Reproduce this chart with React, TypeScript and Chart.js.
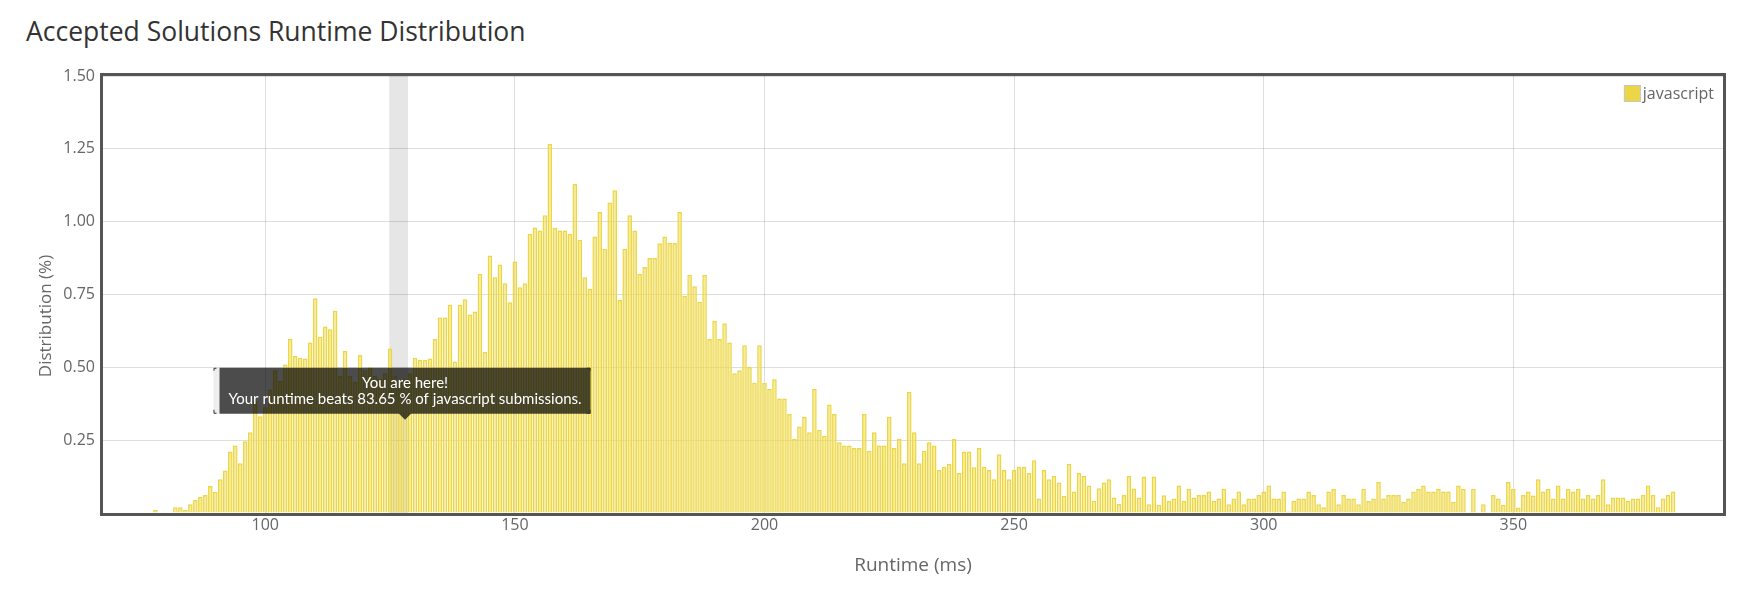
import React, { useEffect, useRef } from 'react';
import { Chart, registerables } from 'chart.js';

Chart.register(...registerables);

// Runtime buckets (ms)
const runtimeMs: number[] = [
  78, 79, 80, 81, 82, 83, 84, 85, 86, 87,
  88, 89, 90, 91, 92, 93, 94, 95, 96, 97,
  98, 99, 100, 101, 102, 103, 104, 105, 106, 107,
  108, 109, 110, 111, 112, 113, 114, 115, 116, 117,
  118, 119, 120, 121, 122, 123, 124, 125, 126, 127,
  128, 129, 130, 131, 132, 133, 134, 135, 136, 137,
  138, 139, 140, 141, 142, 143, 144, 145, 146, 147,
  148, 149, 150, 151, 152, 153, 154, 155, 156, 157,
  158, 159, 160, 161, 162, 163, 164, 165, 166, 167,
  168, 169, 170, 171, 172, 173, 174, 175, 176, 177,
  178, 179, 180, 181, 182, 183, 184, 185, 186, 187,
  188, 189, 190, 191, 192, 193, 194, 195, 196, 197,
  198, 199, 200, 201, 202, 203, 204, 205, 206, 207,
  208, 209, 210, 211, 212, 213, 214, 215, 216, 217,
  218, 219, 220, 221, 222, 223, 224, 225, 226, 227,
  228, 229, 230, 231, 232, 233, 234, 235, 236, 237,
  238, 239, 240, 241, 242, 243, 244, 245, 246, 247,
  248, 249, 250, 251, 252, 253, 254, 255, 256, 257,
  258, 259, 260, 261, 262, 263, 264, 265, 266, 267,
  268, 269, 270, 271, 272, 273, 274, 275, 276, 277,
  278, 279, 280, 281, 282, 283, 284, 285, 286, 287,
  288, 289, 290, 291, 292, 293, 294, 295, 296, 297,
  298, 299, 300, 301, 302, 303, 304, 305, 306, 307,
  308, 309, 310, 311, 312, 313, 314, 315, 316, 317,
  318, 319, 320, 321, 322, 323, 324, 325, 326, 327,
  328, 329, 330, 331, 332, 333, 334, 335, 336, 337,
  338, 339, 340, 341, 342, 343, 344, 345, 346, 347,
  348, 349, 350, 351, 352, 353, 354, 355, 356, 357,
  358, 359, 360, 361, 362, 363, 364, 365, 366, 367,
  368, 369, 370, 371, 372, 373, 374, 375, 376, 377,
  378, 379, 380, 381, 382,
];

// Distribution (%) per runtime bucket
const distribution: (number | null)[] = [
  0.01, null, null, null, 0.02, 0.02, 0.01, 0.03, 0.045, 0.055,
  0.062, 0.093, 0.073, 0.116, 0.146, 0.211, 0.232, 0.171, 0.246, 0.277,
  0.384, 0.332, 0.363, 0.424, 0.49, 0.453, 0.51, 0.597, 0.539, 0.533,
  0.53, 0.585, 0.737, 0.605, 0.64, 0.631, 0.694, 0.47, 0.556, 0.47,
  0.45, 0.542, 0.49, 0.5, 0.47, 0.46, 0.48, 0.565, 0.47, 0.45,
  0.46, 0.48, 0.533, 0.525, 0.525, 0.53, 0.597, 0.671, 0.671, 0.715,
  0.52, 0.715, 0.734, 0.681, 0.692, 0.821, 0.553, 0.884, 0.809, 0.853,
  0.789, 0.723, 0.863, 0.775, 0.789, 0.958, 0.98, 0.97, 1.022, 1.267,
  0.979, 0.97, 0.97, 0.958, 1.129, 0.938, 0.809, 0.769, 0.949, 1.033,
  0.907, 1.066, 1.108, 0.731, 0.907, 1.022, 0.97, 0.821, 0.844, 0.875,
  0.875, 0.926, 0.949, 0.927, 0.927, 1.033, 0.746, 0.818, 0.778, 0.725,
  0.818, 0.597, 0.659, 0.597, 0.651, 0.585, 0.48, 0.49, 0.576, 0.501,
  0.447, 0.576, 0.447, 0.426, 0.459, 0.393, 0.393, 0.34, 0.254, 0.297,
  0.33, 0.277, 0.426, 0.286, 0.265, 0.372, 0.34, 0.243, 0.232, 0.232,
  0.223, 0.223, 0.34, 0.214, 0.277, 0.232, 0.232, 0.33, 0.223, 0.255,
  0.171, 0.416, 0.277, 0.171, 0.214, 0.243, 0.232, 0.148, 0.159, 0.169,
  0.254, 0.137, 0.211, 0.211, 0.157, 0.223, 0.159, 0.148, 0.116, 0.202,
  0.148, 0.116, 0.148, 0.159, 0.159, 0.137, 0.181, 0.05, 0.148, 0.116,
  0.127, 0.105, 0.059, 0.169, 0.074, 0.137, 0.127, 0.094, 0.042, 0.085,
  0.105, 0.116, 0.053, 0.031, 0.062, 0.127, 0.084, 0.053, 0.125, 0.03,
  0.125, 0.028, 0.061, 0.041, 0.05, 0.094, 0.041, 0.083, 0.053, 0.062,
  0.062, 0.074, 0.041, 0.05, 0.083, 0.03, 0.05, 0.074, 0.03, 0.05,
  0.05, 0.062, 0.074, 0.094, 0.05, 0.05, 0.074, 0.005, 0.041, 0.05,
  0.05, 0.074, 0.062, 0.03, 0.02, 0.074, 0.083, 0.03, 0.062, 0.05,
  0.05, 0.03, 0.083, 0.041, 0.05, 0.106, 0.05, 0.062, 0.062, 0.062,
  0.039, 0.05, 0.074, 0.083, 0.094, 0.074, 0.074, 0.083, 0.074, 0.074,
  0.039, 0.094, 0.083, 0.003, 0.083, 0.003, 0.03, 0.003, 0.062, 0.05,
  0.028, 0.106, 0.083, 0.019, 0.062, 0.074, 0.06, 0.116, 0.074, 0.083,
  0.05, 0.094, 0.05, 0.083, 0.074, 0.083, 0.05, 0.062, 0.05, 0.062,
  0.116, 0.03, 0.053, 0.053, 0.053, 0.041, 0.05, 0.05, 0.062, 0.094,
  0.062, 0.02, 0.05, 0.062, 0.074,
];

const xTickValues = [100, 150, 200, 250, 300, 350];
const yTickValues = [0, 0.25, 0.5, 0.75, 1, 1.25, 1.5];
const seriesName = 'javascript';
const chartTitle = 'Accepted Solutions Runtime Distribution';
const xAxisTitle = 'Runtime (ms)';
const yAxisTitle = 'Distribution (%)';
const yourRuntime = 128;
const yourRuntimeBand = [124.85, 128.6];
const beatsPercent = '83.65';
const tooltipAnchorValue = 0.32;

const FONT = '"Open Sans"';
const TIP_FONT = 'Lato';
const BAR_FILL = 'rgba(240, 224, 96, 0.62)';
const BAR_BORDER = 'rgb(236, 214, 70)';

export default function App() {
  const canvasRef = useRef<HTMLCanvasElement>(null);

  useEffect(() => {
    const canvas = canvasRef.current;
    if (!canvas) return;
    const points = runtimeMs.map((x, i) => ({ x, y: distribution[i] }));

    const decor = {
      id: 'decor',
      beforeDraw(chart: any) {
        const { ctx, chartArea: a, scales } = chart;
        const x0 = scales.x.getPixelForValue(yourRuntimeBand[0]);
        const x1 = scales.x.getPixelForValue(yourRuntimeBand[1]);
        ctx.save();
        ctx.fillStyle = '#e6e6e6';
        ctx.fillRect(x0, a.top, x1 - x0, a.bottom - a.top);
        ctx.restore();
      },
      afterDraw(chart: any) {
        const { ctx, chartArea: a, scales } = chart;
        ctx.save();
        // plot frame
        ctx.strokeStyle = '#555555';
        ctx.lineWidth = 3;
        ctx.strokeRect(a.left - 1.5, a.top - 1.5, a.right - a.left + 3, a.bottom - a.top + 3);

        // y axis title
        ctx.save();
        ctx.translate(38.5, 308);
        ctx.rotate(-Math.PI / 2);
        ctx.font = `17px ${FONT}`;
        ctx.fillStyle = '#666666';
        ctx.textAlign = 'center';
        ctx.textBaseline = 'middle';
        ctx.fillText(yAxisTitle, 0, 0);
        ctx.restore();

        // legend (inside plot, top-right)
        ctx.font = `16px ${FONT}`;
        ctx.textBaseline = 'middle';
        ctx.textAlign = 'left';
        const lw = ctx.measureText(seriesName).width;
        const textRight = a.right - 9;
        const textLeft = textRight - lw;
        const boxSize = 17;
        const boxX = textLeft - 2 - boxSize;
        const boxY = a.top + 9;
        ctx.fillStyle = BAR_BORDER;
        ctx.fillRect(boxX + 0.5, boxY + 0.5, boxSize - 1, boxSize - 1);
        ctx.strokeStyle = '#c4c4c4';
        ctx.lineWidth = 1;
        ctx.strokeRect(boxX + 0.5, boxY + 0.5, boxSize - 1, boxSize - 1);
        ctx.fillStyle = '#666666';
        ctx.fillText(seriesName, textLeft, boxY + boxSize / 2 + 1);

        // "you are here" tooltip
        const title = 'You are here!';
        const body = `Your runtime beats ${beatsPercent} % of ${seriesName} submissions.`;
        ctx.font = `15px ${TIP_FONT}`;
        const tw = Math.max(ctx.measureText(title).width, ctx.measureText(body).width);
        const tipX = scales.x.getPixelForValue(yourRuntime);
        const tipY = scales.y.getPixelForValue(tooltipAnchorValue);
        const caret = 6;
        const bw = tw + 18;
        const bh = 46;
        const bx = tipX - bw / 2;
        const by = tipY - caret - bh;
        ctx.fillStyle = 'rgba(236,236,236,0.9)';
        ctx.fillRect(bx - 6, by, 6, bh);
        ctx.fillStyle = 'rgba(0,0,0,0.7)';
        ctx.beginPath();
        ctx.moveTo(bx, by);
        ctx.lineTo(bx + bw, by);
        ctx.lineTo(bx + bw, by + bh);
        ctx.lineTo(tipX + caret, by + bh);
        ctx.lineTo(tipX, by + bh + caret);
        ctx.lineTo(tipX - caret, by + bh);
        ctx.lineTo(bx, by + bh);
        ctx.closePath();
        ctx.fill();
        // small corner marks
        ctx.strokeStyle = '#333';
        ctx.lineWidth = 1;
        const cm = (x: number, y: number, dx: number, dy: number) => {
          ctx.beginPath();
          ctx.moveTo(x + dx * 3, y + 0.5);
          ctx.lineTo(x + 0.5, y + 0.5);
          ctx.lineTo(x + 0.5, y + dy * 3);
          ctx.stroke();
        };
        cm(bx - 6, by, 1, 1);
        cm(bx - 6, by + bh - 1, 1, -1);
        cm(bx + bw - 1, by, -1, 1);
        cm(bx + bw - 1, by + bh - 1, -1, -1);
        ctx.fillStyle = '#ffffff';
        ctx.textAlign = 'center';
        ctx.textBaseline = 'middle';
        ctx.fillText(title, bx + bw / 2, by + 15);
        ctx.fillText(body, bx + bw / 2, by + 31);
        ctx.restore();
      },
    };

    const chart = new Chart(canvas, {
      type: 'bar',
      data: {
        datasets: [
          {
            label: seriesName,
            data: points as any,
            backgroundColor: BAR_FILL,
            borderColor: BAR_BORDER,
            borderWidth: 1.5,
            barPercentage: 0.92,
            categoryPercentage: 1,
          },
        ],
      },
      options: {
        responsive: false,
        animation: false,
        devicePixelRatio: 1,
        layout: { padding: { top: 68, right: 9, left: 0, bottom: 0 } },
        plugins: {
          legend: { display: false },
          tooltip: { enabled: false },
          title: { display: false },
        },
        scales: {
          x: {
            type: 'linear',
            offset: false,
            min: 67.5,
            max: 392,
            afterFit: (s: any) => {
              s.height = 75;
            },
            afterBuildTicks: (s: any) => {
              s.ticks = xTickValues.map((value) => ({ value }));
            },
            ticks: {
              font: { family: FONT, size: 16 },
              color: '#666666',
              padding: 3,
              callback: (v: any) => String(v),
            },
            grid: { color: 'rgba(0,0,0,0.13)', lineWidth: 1, drawTicks: false, offset: false },
            border: { display: false },
            title: {
              display: true,
              text: xAxisTitle,
              font: { family: FONT, size: 19 },
              color: '#666666',
              padding: { top: 0, bottom: 11 },
            },
          },
          y: {
            min: 0,
            max: 1.5,
            afterFit: (s: any) => {
              s.width = 95;
            },
            afterBuildTicks: (s: any) => {
              s.ticks = yTickValues.map((value) => ({ value }));
            },
            ticks: {
              font: { family: FONT, size: 16 },
              color: '#666666',
              padding: 8,
              callback: (v: any) => (Number(v) === 0 ? '' : Number(v).toFixed(2)),
            },
            grid: { color: 'rgba(0,0,0,0.13)', lineWidth: 1, drawTicks: false },
            border: { display: false },
            title: { display: false },
          },
        },
      },
      plugins: [decor],
    });

    return () => chart.destroy();
  }, []);

  return (
    <div style={{ position: 'relative', width: 1724, height: 580 }}>
      <div
        style={{
          position: 'absolute',
          left: 18,
          top: 8,
          font: `26.5px ${FONT}`,
          lineHeight: '30px',
          color: '#333333',
          whiteSpace: 'nowrap',
        }}
      >
        {chartTitle}
      </div>
      <canvas ref={canvasRef} width={1724} height={580} style={{ position: 'absolute', left: 0, top: 0 }} />
    </div>
  );
}
